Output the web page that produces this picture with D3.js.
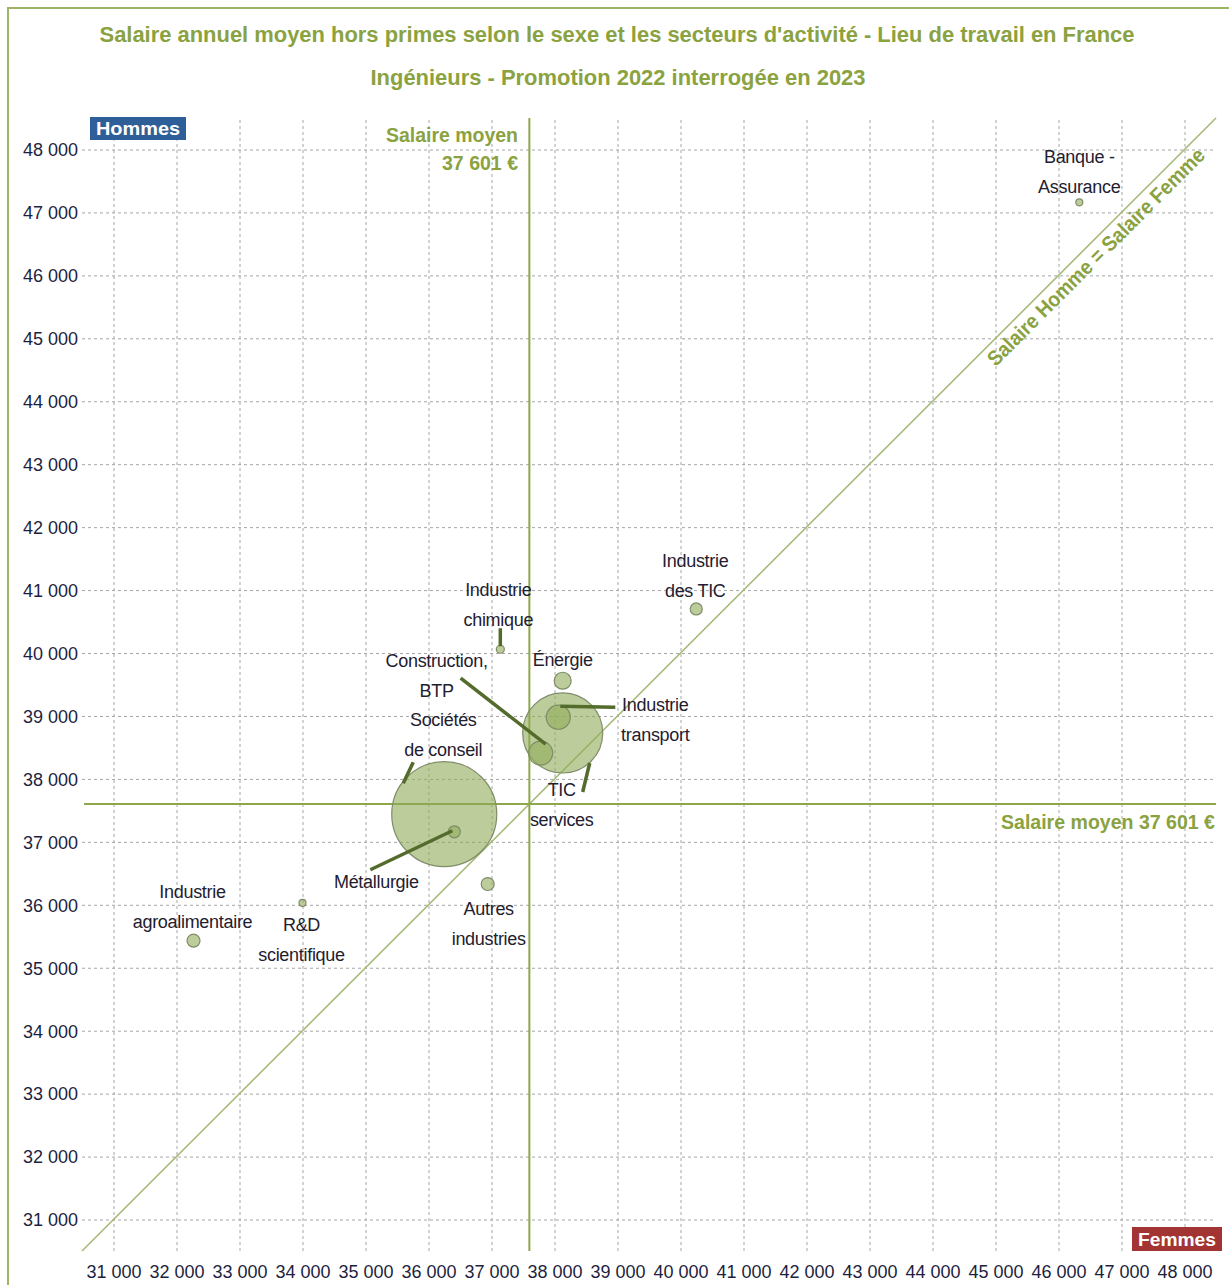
<!DOCTYPE html>
<html>
<head>
<meta charset="utf-8">
<script src="https://cdn.jsdelivr.net/npm/d3@7"></script>
<style>
  body { margin: 0; background: #fff; }
  svg { display: block; }
  .tick text { font-family: "Liberation Sans", Arial, sans-serif; font-size: 18px; fill: #1d1f3f; }
  .grid .tick line { stroke: #a6a6a6; stroke-dasharray: 3 3; }
  .grid .domain { display: none; }
  .bubble-label { font-family: "Liberation Sans", Arial, sans-serif; font-size: 18px; fill: #1f2030; letter-spacing: -0.3px; }
  .olive { font-family: "Liberation Sans Narrow", "Liberation Sans", Arial, sans-serif; font-weight: bold; fill: #8aa23f; }
</style>
</head>
<body>
<div id="chart"></div>
<script>
const SECTORS = [
  "Banque - Assurance",
  "Industrie des TIC",
  "Industrie chimique",
  "Énergie",
  "Industrie transport",
  "TIC services",
  "Construction, BTP",
  "Sociétés de conseil",
  "Métallurgie",
  "Autres industries",
  "R&D scientifique",
  "Industrie agroalimentaire",
];
const SALAIRE_FEMMES = [46330, 40250, 37140, 38130, 38060, 38130, 37780, 36250, 36410, 36940, 34000, 32270];
const SALAIRE_HOMMES = [47160, 40700, 40060, 39560, 38980, 38730, 38410, 37440, 37160, 36330, 36030, 35430];
const EFFECTIFS = [12, 36, 16, 72, 144, 1600, 144, 2750, 36, 42, 12, 42];
const SALAIRE_MOYEN = 37601;
const TICKS = d3.range(31000, 48001, 1000);

// label layout: text lines, offset from bubble centre, optional leader line
const LABELS = {
  "Banque - Assurance": { lines: ["Banque -", "Assurance"], dx: 0, dy: -46 },
  "Industrie des TIC": { lines: ["Industrie", "des TIC"], dx: -1, dy: -48 },
  "Industrie chimique": { lines: ["Industrie", "chimique"], dx: -2, dy: -60, leader: [[0, -21], [0, -3]] },
  "Énergie": { lines: ["Énergie"], dx: 0, dy: -21 },
  "Industrie transport": { lines: ["Industrie", "transport"], dx: 97, dy: -13, leader: [[57, -10], [2, -11]] },
  "TIC services": { lines: ["TIC", "services"], dx: -1, dy: 57, leader: [[20, 59], [27, 30]] },
  "Construction, BTP": { lines: ["Construction,", "BTP"], dx: -104, dy: -92, leader: [[-80, -75], [5, -9]] },
  "Sociétés de conseil": { lines: ["Sociétés", "de conseil"], dx: -1, dy: -94, leader: [[-31, -52], [-41, -31]] },
  "Métallurgie": { lines: ["Métallurgie"], dx: -78, dy: 50, leader: [[-84, 38], [-2, -1]] },
  "Autres industries": { lines: ["Autres", "industries"], dx: 1, dy: 25 },
  "R&D scientifique": { lines: ["R&D", "scientifique"], dx: -1, dy: 22 },
  "Industrie agroalimentaire": { lines: ["Industrie", "agroalimentaire"], dx: -1, dy: -49 },
};

const width = 1229;
const height = 1285;
const plot = { left: 82, right: 1216, top: 118, bottom: 1251 };

const locale = d3.formatLocale({ decimal: ",", thousands: " ", grouping: [3], currency: ["", " €"] });
const fmt = locale.format(",");

const x = d3.scaleLinear().domain([30500, 48500]).range([plot.left, plot.right]);
const y = d3.scaleLinear().domain([30500, 48500]).range([plot.bottom, plot.top]);
const r = d3.scaleSqrt().domain([0, 2750]).range([0, 52.5]);

const data = SECTORS.map((name, i) => ({
  name,
  femmes: SALAIRE_FEMMES[i],
  hommes: SALAIRE_HOMMES[i],
  effectif: EFFECTIFS[i],
}));

const svg = d3.select("#chart").append("svg")
  .attr("width", width)
  .attr("height", height);

// frame
svg.append("rect")
  .attr("x", 8).attr("y", 8)
  .attr("width", width + 20).attr("height", height + 20)
  .attr("fill", "none")
  .attr("stroke", "#9db563")
  .attr("stroke-width", 2);

// titles
svg.append("text")
  .attr("class", "olive")
  .attr("x", 617).attr("y", 42)
  .attr("text-anchor", "middle")
  .attr("font-size", 22)
  .attr("textLength", 1035)
  .attr("lengthAdjust", "spacingAndGlyphs")
  .text("Salaire annuel moyen hors primes selon le sexe et les secteurs d'activité - Lieu de travail en France");

svg.append("text")
  .attr("class", "olive")
  .attr("x", 618).attr("y", 85)
  .attr("text-anchor", "middle")
  .attr("font-size", 22)
  .attr("textLength", 495)
  .attr("lengthAdjust", "spacingAndGlyphs")
  .text("Ingénieurs - Promotion 2022 interrogée en 2023");

// grid + axes
svg.append("g")
  .attr("class", "grid")
  .attr("transform", `translate(${plot.left},0)`)
  .call(d3.axisLeft(y).tickValues(TICKS).tickFormat(fmt)
    .tickSize(-(plot.right - plot.left)).tickPadding(4))
  .call((g) => g.selectAll(".tick text").attr("dy", "0.35em"));

svg.append("g")
  .attr("class", "grid")
  .attr("transform", `translate(0,${plot.bottom})`)
  .call(d3.axisBottom(x).tickValues(TICKS).tickFormat(fmt)
    .tickSize(-(plot.bottom - plot.top)).tickPadding(14));

// diagonal: salaire homme = salaire femme
const diagDomain = x.domain();
svg.append("line")
  .attr("x1", x(diagDomain[0])).attr("y1", y(diagDomain[0]))
  .attr("x2", x(diagDomain[1])).attr("y2", y(diagDomain[1]))
  .attr("stroke", "#a7ba7a")
  .attr("stroke-width", 1.6);

// mean lines
svg.append("line")
  .attr("x1", x(SALAIRE_MOYEN)).attr("x2", x(SALAIRE_MOYEN))
  .attr("y1", plot.top).attr("y2", plot.bottom)
  .attr("stroke", "#8fa64a").attr("stroke-width", 2);

svg.append("line")
  .attr("x1", plot.left + 2).attr("x2", plot.right)
  .attr("y1", y(SALAIRE_MOYEN)).attr("y2", y(SALAIRE_MOYEN))
  .attr("stroke", "#8fa64a").attr("stroke-width", 2);

// bubbles
svg.append("g")
  .selectAll("circle")
  .data(data.slice().sort((a, b) => b.effectif - a.effectif))
  .join("circle")
  .attr("cx", (d) => x(d.femmes))
  .attr("cy", (d) => y(d.hommes))
  .attr("r", (d) => r(d.effectif))
  .attr("fill", "#8fab58")
  .attr("fill-opacity", 0.6)
  .attr("stroke", "#7f8c6a")
  .attr("stroke-width", 1.2);

// leaders
svg.append("g")
  .selectAll("line")
  .data(data.filter((d) => LABELS[d.name].leader))
  .join("line")
  .attr("x1", (d) => x(d.femmes) + LABELS[d.name].leader[0][0])
  .attr("y1", (d) => y(d.hommes) + LABELS[d.name].leader[0][1])
  .attr("x2", (d) => x(d.femmes) + LABELS[d.name].leader[1][0])
  .attr("y2", (d) => y(d.hommes) + LABELS[d.name].leader[1][1])
  .attr("stroke", "#536b2b")
  .attr("stroke-width", 3.5);

// labels
const labels = svg.append("g")
  .selectAll("text")
  .data(data)
  .join("text")
  .attr("class", "bubble-label")
  .attr("text-anchor", "middle")
  .attr("x", (d) => x(d.femmes) + LABELS[d.name].dx)
  .attr("y", (d) => y(d.hommes) + LABELS[d.name].dy);

labels.selectAll("tspan")
  .data((d) => LABELS[d.name].lines.map((line, i) => ({ line, i, d })))
  .join("tspan")
  .attr("x", (t) => x(t.d.femmes) + LABELS[t.d.name].dx)
  .attr("dy", (t) => (t.i === 0 ? "0.35em" : "30px"))
  .text((t) => t.line);

// mean annotations
svg.append("text")
  .attr("class", "olive")
  .attr("x", 518).attr("y", 142)
  .attr("text-anchor", "end")
  .attr("font-size", 20)
  .attr("textLength", 132)
  .attr("lengthAdjust", "spacingAndGlyphs")
  .text("Salaire moyen");

svg.append("text")
  .attr("class", "olive")
  .attr("x", 518).attr("y", 170)
  .attr("text-anchor", "end")
  .attr("font-size", 20)
  .attr("textLength", 76)
  .attr("lengthAdjust", "spacingAndGlyphs")
  .text(`${fmt(SALAIRE_MOYEN)} €`);

svg.append("text")
  .attr("class", "olive")
  .attr("x", 1215).attr("y", 829)
  .attr("text-anchor", "end")
  .attr("font-size", 20)
  .attr("textLength", 214)
  .attr("lengthAdjust", "spacingAndGlyphs")
  .text(`Salaire moyen ${fmt(SALAIRE_MOYEN)} €`);

// diagonal caption
const capX = 1101;
const capY = 262;
svg.append("text")
  .attr("class", "olive")
  .attr("transform", `translate(${capX},${capY}) rotate(-45)`)
  .attr("text-anchor", "middle")
  .attr("font-size", 21)
  .attr("textLength", 298)
  .attr("lengthAdjust", "spacingAndGlyphs")
  .text("Salaire Homme = Salaire Femme");

// axis badges
function badge(label, bx, by, bw, bh, fill) {
  svg.append("rect")
    .attr("x", bx).attr("y", by)
    .attr("width", bw).attr("height", bh)
    .attr("fill", fill);
  svg.append("text")
    .attr("x", bx + bw / 2).attr("y", by + bh / 2)
    .attr("dy", "0.36em")
    .attr("text-anchor", "middle")
    .attr("font-family", "Liberation Sans Narrow, Liberation Sans, Arial, sans-serif")
    .attr("font-weight", "bold")
    .attr("font-size", 19)
    .attr("fill", "#fff")
    .attr("textLength", bw - 12)
    .attr("lengthAdjust", "spacingAndGlyphs")
    .text(label);
}

badge("Hommes", 90, 117, 96, 23, "#2f5f98");
badge("Femmes", 1132, 1227, 90, 24, "#a23434");
</script>
</body>
</html>
